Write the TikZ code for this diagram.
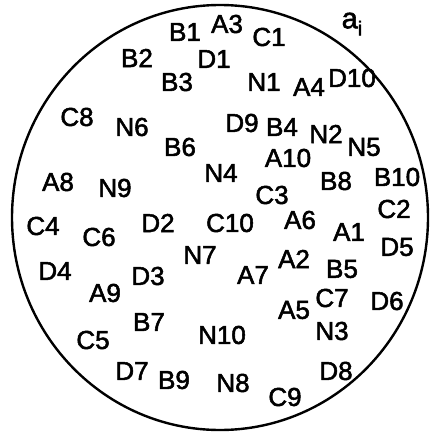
\documentclass[tikz,border=0pt]{standalone}
\usepackage{fontspec}
\setmainfont{Liberation Sans}
\newfontfamily\lblfont{Liberation Sans}[FakeBold=2]
\begin{document}
\begin{tikzpicture}[x=1pt,y=-1pt,
  lbl/.style={inner sep=0pt,anchor=center,font=\lblfont\fontsize{26}{26}\selectfont}]
\useasboundingbox (0,0) rectangle (429,433);
\draw[line width=2.4pt] (220,217.5) ellipse [x radius=208,y radius=212.5];
\foreach \t/\x/\y in {B1/185/32, A3/227/24, C1/269/37, B2/137/58, D1/214/59,
  B3/177/82, N1/264/82, A4/309/87, D10/352/78, C8/77/117, N6/132/127,
  D9/242/123, B4/282/127, N2/326/134, N5/364/147, B6/180/147, A10/288/158,
  N4/221/173, B8/336/181, B10/397/177, A8/58/182, N9/115/188, C3/272/195,
  C4/43/226, C6/99/237, D2/158/223, C10/230/223, A6/300/220, A1/349/232,
  C2/394/209, D5/397/247, N7/200/255, D4/55/271, D3/148/276, A7/253/275,
  A2/294/259, B5/342/269, A9/105/293, A5/294/310, C7/332/298, D6/387/301,
  B7/149/322, N10/222/335, N3/332/331, C5/93/340, D7/132/371, B9/174/380,
  N8/233/383, D8/336/371, C9/285/397}
  \node[lbl] (\t) at (\x,\y) {\t};
\node[lbl,anchor=center] (ai) at (352,24) {\fontsize{29}{29}\selectfont a\raisebox{-7pt}{\fontsize{20}{20}\selectfont i}};
\end{tikzpicture}
\end{document}
